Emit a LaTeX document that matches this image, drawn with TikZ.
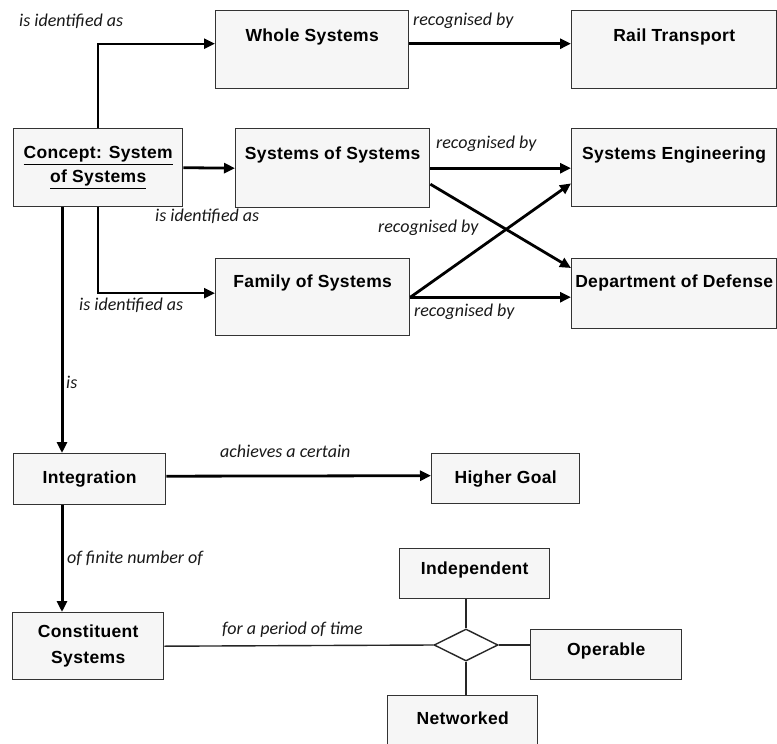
\documentclass[tikz,border=0pt]{standalone}
\usepackage{fontspec}
\newfontfamily\boxfont[LetterSpace=2]{Liberation Sans}
\newfontfamily\lblfont{Carlito}
\usetikzlibrary{arrows.meta,shapes.geometric}
\definecolor{boxfill}{HTML}{F6F6F6}
\definecolor{boxline}{HTML}{333333}
\begin{document}
\begin{tikzpicture}[x=1pt,y=-1pt,
  box/.style={draw=boxline, line width=1.4pt, fill=boxfill, rectangle, inner sep=0pt, anchor=north west},
  btxt/.style={font=\boxfont\bfseries\fontsize{17.5}{24}\selectfont, text=black, align=center, inner sep=0pt},
  lbl/.style={font=\lblfont\itshape\fontsize{18}{20}\selectfont, anchor=west, inner sep=0pt, text=black!90},
  conn/.style={line width=2.8pt, -{Triangle[length=11pt,width=10pt]}},
  elbow/.style={conn, line width=2.3pt},
  thinline/.style={line width=1.4pt, draw=black!85},
]
\clip (0,0) rectangle (777,744);
\fill[white] (0,0) rectangle (777,744);

% boxes
\node[box, minimum width=193pt, minimum height=78pt] (ws) at (215,10) {};
\node[box, minimum width=205pt, minimum height=78pt] (rail) at (571,10) {};
\node[box, minimum width=169pt, minimum height=78pt] (concept) at (13,128) {};
\node[box, minimum width=194pt, minimum height=79pt] (sos) at (235,128) {};
\node[box, minimum width=205pt, minimum height=78pt] (se) at (571,128) {};
\node[box, minimum width=194pt, minimum height=77pt] (fos) at (215,258) {};
\node[box, minimum width=205pt, minimum height=70pt] (dod) at (571,258) {};
\node[box, minimum width=152pt, minimum height=51pt] (integ) at (13,453) {};
\node[box, minimum width=148pt, minimum height=50pt] (hg) at (431,453) {};
\node[box, minimum width=151pt, minimum height=67pt] (const) at (12,612) {};
\node[box, minimum width=150pt, minimum height=50pt] (ind) at (399,548) {};
\node[box, minimum width=151pt, minimum height=50pt] (op) at (530,629) {};
\node[box, minimum width=150pt, minimum height=70pt] (net) at (387,695) {};
\node[diamond, draw=black!85, line width=1.4pt, fill=white, inner sep=0pt,
      minimum width=64pt, minimum height=32pt] (dia) at (466,645) {};

% box texts
\node[btxt] (wsT) at ([yshift=-27pt]ws.north) {Whole Systems};
\node[btxt] (railT) at ([yshift=-27pt]rail.north) {Rail Transport};
\node[btxt] (conceptT) at (concept.center) {\underline{Concept: System}\\\underline{of Systems}};
\node[btxt] (sosT) at ([yshift=-27pt]sos.north) {Systems of Systems};
\node[btxt] (seT) at ([yshift=-27pt]se.north) {Systems Engineering};
\node[btxt] (fosT) at ([yshift=-25pt]fos.north) {Family of Systems};
\node[btxt] (dodT) at ([yshift=-25pt]dod.north) {Department of Defense};
\node[btxt] (integT) at (integ.center) {Integration};
\node[btxt] (hgT) at (hg.center) {Higher Goal};
\node[btxt, font=\boxfont\bfseries\fontsize{17.5}{26}\selectfont] (constT) at (const.center) {Constituent\\Systems};
\node[btxt] (indT) at ([yshift=4pt]ind.center) {Independent};
\node[btxt] (opT) at ([yshift=4pt]op.center) {Operable};
\node[btxt] (netT) at ([yshift=-23pt]net.north) {Networked};

% connectors
\coordinate (colx) at (62,0);
\draw[elbow] (concept.north) |- ([yshift=6pt]ws.west);
\draw[conn] ([yshift=6pt]ws.east) -- ([yshift=6pt]rail.west);
\draw[conn] (concept.east) -- (sos.west);
\draw[elbow] (concept.south) |- ([yshift=4pt]fos.west);
\draw[conn] (sos.east) -- (sos.east -| se.west);
\draw[conn] ([yshift=-16pt]sos.east) -- ([yshift=-10pt]dod.north west);
\draw[conn] (fos.east) -- ([yshift=24pt]se.south west);
\draw[conn] (fos.east) -- (fos.east -| dod.west);
\draw[conn, line width=3pt] (concept.south -| colx) -- (integ.north -| colx);
\draw[conn] ([yshift=3pt]integ.east) -- ([yshift=3pt]hg.west);
\draw[conn, line width=3pt] (integ.south -| colx) -- (const.north -| colx);
\draw[thinline] (const.east) -- (dia.west);
\draw[thinline] (dia.north) -- (dia.north |- ind.south);
\draw[thinline] (dia.east) -- (dia.east -| op.west);
\draw[thinline] (dia.south) -- (dia.south |- net.north);

% labels
\node[lbl] (l1) at (19,21) {is identified as};
\node[lbl] (l2) at (413,21) {recognised by};
\node[lbl] (l3) at (436,144) {recognised by};
\node[lbl] (l4) at (155,216) {is identified as};
\node[lbl] (l5) at (378,228) {recognised by};
\node[lbl] (l6) at (79,305) {is identified as};
\node[lbl] (l7) at (414,312) {recognised by};
\node[lbl] (l8) at (66,382) {is};
\node[lbl] (l9) at (220,451) {achieves a certain};
\node[lbl] (l10) at (67,558) {of finite number of};
\node[lbl] (l11) at (222,630) {for a period of time};
\end{tikzpicture}
\end{document}
